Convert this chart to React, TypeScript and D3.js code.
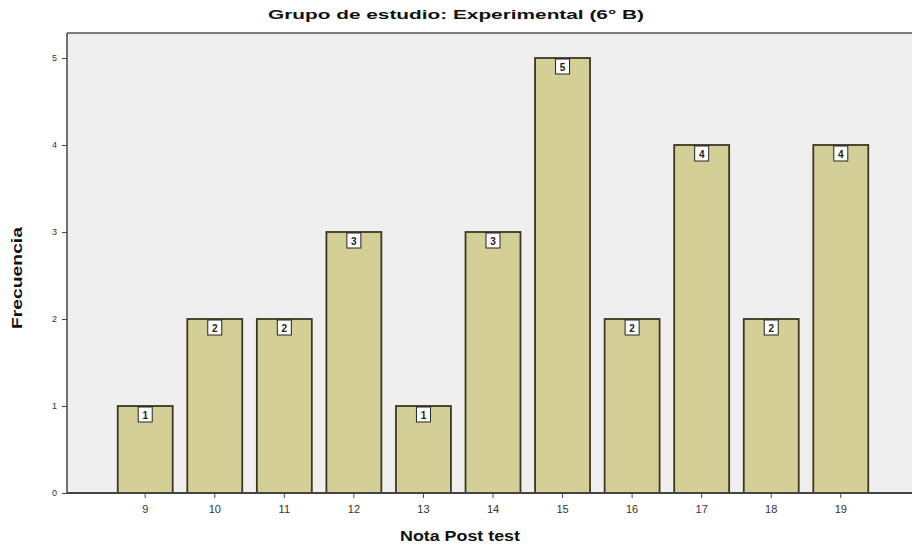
import { useEffect, useRef } from 'react';
import * as d3 from 'd3';

const categories = ['9', '10', '11', '12', '13', '14', '15', '16', '17', '18', '19'];
const counts = [1, 2, 2, 3, 1, 3, 5, 2, 4, 2, 4];
const yTicks = [0, 1, 2, 3, 4, 5];

const W = 912;
const H = 552;

export default function App() {
  const svgRef = useRef<SVGSVGElement>(null);

  useEffect(() => {
    if (!svgRef.current) return;
    const svg = d3.select(svgRef.current);
    svg.selectAll('*').remove();

    const left = 67;
    const top = 33;
    const bottom = 493;

    const x = d3.scaleBand<string>()
      .domain(categories)
      .range([76, 910])
      .paddingInner(0.21)
      .paddingOuter(0.6);

    const y = d3.scaleLinear().domain([0, 5]).range([bottom, bottom - 5 * 87]);

    // fondo del área de trazado
    svg.append('rect')
      .attr('x', left).attr('y', top)
      .attr('width', W - left).attr('height', bottom - top)
      .attr('fill', '#efefef');

    // marco
    svg.append('line')
      .attr('x1', left).attr('x2', W)
      .attr('y1', top).attr('y2', top)
      .attr('stroke', '#555').attr('stroke-width', 1.5);

    // barras
    const font = 'Arial, "Liberation Sans", sans-serif';
    const g = svg.append('g');
    g.selectAll('rect.bar')
      .data(counts)
      .join('rect')
      .attr('class', 'bar')
      .attr('x', (_, i) => x(categories[i])!)
      .attr('y', d => y(d))
      .attr('width', x.bandwidth())
      .attr('height', d => bottom - y(d))
      .attr('fill', '#d4cf97')
      .attr('stroke', '#3a3822')
      .attr('stroke-width', 1.8);

    // etiquetas
    const lbl = g.selectAll('g.lbl')
      .data(counts)
      .join('g')
      .attr('class', 'lbl')
      .attr('transform', (d, i) => `translate(${x(categories[i])! + x.bandwidth() / 2},${y(d)})`);

    lbl.append('rect')
      .attr('x', -7).attr('y', 1)
      .attr('width', 14).attr('height', 15)
      .attr('fill', '#fff')
      .attr('stroke', '#222')
      .attr('stroke-width', 1);

    lbl.append('text')
      .attr('y', 12.5)
      .attr('text-anchor', 'middle')
      .attr('font-family', font)
      .attr('font-size', 10)
      .attr('font-weight', 'bold')
      .attr('fill', '#222')
      .text(d => d);

    // eje Y
    const yAxis = svg.append('g')
      .attr('transform', `translate(${left},0)`)
      .call(d3.axisLeft(y).tickValues(yTicks).tickSize(5).tickSizeOuter(0).tickFormat(d3.format('d')));
    yAxis.select('.domain').attr('stroke', '#444').attr('stroke-width', 1.5)
      .attr('d', `M0,${top}V${bottom}`);
    yAxis.selectAll('line').attr('stroke', '#444');
    yAxis.selectAll('text')
      .attr('font-family', font)
      .attr('font-size', 9)
      .attr('fill', '#333')
      .attr('x', -10);

    // eje X
    const xAxis = svg.append('g')
      .attr('transform', `translate(0,${bottom})`)
      .call(d3.axisBottom(x).tickSize(5).tickSizeOuter(0));
    xAxis.select('.domain').attr('stroke', '#444').attr('stroke-width', 2)
      .attr('d', `M${left},0H${W}`);
    xAxis.selectAll('line').attr('stroke', '#444');
    xAxis.selectAll('text')
      .attr('font-family', font)
      .attr('font-size', 11)
      .attr('fill', '#333')
      .attr('dy', '1.1em');

    // títulos
    svg.append('text')
      .attr('x', 456).attr('y', 19)
      .attr('text-anchor', 'middle')
      .attr('font-family', font)
      .attr('font-size', 13)
      .attr('font-weight', 'bold')
      .attr('fill', '#111')
      .attr('textLength', 376)
      .attr('lengthAdjust', 'spacingAndGlyphs')
      .text('Grupo de estudio: Experimental (6° B)');

    svg.append('text')
      .attr('x', 460).attr('y', 541)
      .attr('text-anchor', 'middle')
      .attr('font-family', font)
      .attr('font-size', 15)
      .attr('font-weight', 'bold')
      .attr('fill', '#111')
      .attr('textLength', 120)
      .attr('lengthAdjust', 'spacingAndGlyphs')
      .text('Nota Post test');

    svg.append('text')
      .attr('transform', 'translate(22,278) rotate(-90)')
      .attr('text-anchor', 'middle')
      .attr('font-family', font)
      .attr('font-size', 14)
      .attr('font-weight', 'bold')
      .attr('fill', '#111')
      .attr('textLength', 102)
      .attr('lengthAdjust', 'spacingAndGlyphs')
      .text('Frecuencia');
  }, []);

  return (
    <div style={{ position: 'absolute', left: 0, top: 0 }}>
      <svg ref={svgRef} width={W} height={H} style={{ display: 'block', background: '#fff' }} />
    </div>
  );
}
